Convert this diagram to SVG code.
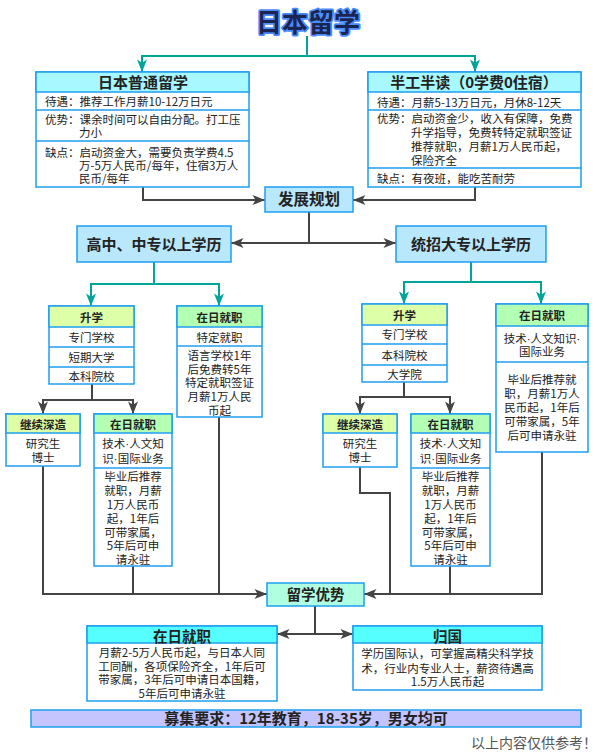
<svg xmlns="http://www.w3.org/2000/svg" width="608" height="753" viewBox="0 0 608 753">
<style>
text{font-family:"Noto Sans CJK SC","Noto Sans",sans-serif;fill:#222}
.d{font-family:"Liberation Sans",sans-serif}
.b{fill:#fff;stroke:#1e9ff0;stroke-width:1.5}
.hc{fill:#a8f8ff;stroke:#1e9ff0;stroke-width:1.5}
.hs{fill:#b9e7fc;stroke:#1e9ff0;stroke-width:1.5}
.hy{fill:#ddffa8;stroke:#1e9ff0;stroke-width:1.5}
.hg{fill:#b3ffb3;stroke:#1e9ff0;stroke-width:1.5}
.hm{fill:#b0ffe0;stroke:#1e9ff0;stroke-width:1.5}
.hq{fill:#55ffff;stroke:#1e9ff0;stroke-width:1.5}
.ln{fill:none;stroke:#1e9ff0;stroke-width:1.5}
.t{font-size:11.5px}
.c{font-size:11.5px;text-anchor:middle}
.h{font-size:11.5px;font-weight:bold;text-anchor:middle}
.H{font-size:15px;font-weight:bold;text-anchor:middle}
.dk{fill:none;stroke:#444;stroke-width:2}
.tl{fill:none;stroke:#00a59a;stroke-width:2}
</style>
<defs>
<marker id="ad" viewBox="0 0 10 8" refX="10" refY="4" markerWidth="13" markerHeight="10" markerUnits="userSpaceOnUse" orient="auto"><path d="M0,0 L10,4 L0,8 L2.5,4 z" fill="#444"/></marker>
<marker id="at" viewBox="0 0 10 8" refX="10" refY="4" markerWidth="13" markerHeight="10" markerUnits="userSpaceOnUse" orient="auto"><path d="M0,0 L10,4 L0,8 L2.5,4 z" fill="#00a59a"/></marker>
</defs>
<rect width="608" height="753" fill="#fff"/>

<g id="title">
<text x="308" y="32" text-anchor="middle" style="font-size:26px;font-weight:bold;fill:#1b2552;stroke:#4a8cff;stroke-width:3.5;paint-order:stroke;stroke-linejoin:round">日本留学</text>
</g>

<g id="connectors">
<path class="tl" d="M307,36 V56"/>
<path class="tl" d="M307,56 H142 V72" marker-end="url(#at)"/>
<path class="tl" d="M307,56 H475 V72" marker-end="url(#at)"/>
<path class="tl" d="M154,262 V284 H91 V306" marker-end="url(#at)"/>
<path class="tl" d="M154,284 H219 V306" marker-end="url(#at)"/>
<path class="tl" d="M471,262 V282 H404 V304" marker-end="url(#at)"/>
<path class="tl" d="M471,282 H541 V304" marker-end="url(#at)"/>
<path class="dk" d="M143,187 V200 H265" marker-end="url(#ad)"/>
<path class="dk" d="M475,187 V200 H353" marker-end="url(#ad)"/>
<path class="dk" d="M309,212 V243 H231" marker-end="url(#ad)"/>
<path class="dk" d="M309,243 H396" marker-end="url(#ad)"/>
<path class="dk" d="M92,384 V400 H43 V414" marker-end="url(#ad)"/>
<path class="dk" d="M92,400 H133 V414" marker-end="url(#ad)"/>
<path class="dk" d="M404,382 V397 H360 V414" marker-end="url(#ad)"/>
<path class="dk" d="M404,397 H450 V414" marker-end="url(#ad)"/>
<path class="dk" d="M43,466 V594 H267" marker-end="url(#ad)"/>
<path class="dk" d="M133,566 V594"/>
<path class="dk" d="M219,417 V594"/>
<path class="dk" d="M360,467 V493 H390 V594"/>
<path class="dk" d="M450,566 V594"/>
<path class="dk" d="M542,452 V594 H364" marker-end="url(#ad)"/>
<path class="dk" d="M315,606 V634 H277" marker-end="url(#ad)"/>
<path class="dk" d="M315,634 H353" marker-end="url(#ad)"/>
</g>

<g id="normal">
<rect class="b" x="36" y="72" width="213" height="115"/>
<rect class="hc" x="36" y="72" width="213" height="20"/>
<path class="ln" d="M36,110 H249 M36,141 H249"/>
<text class="H" x="143" y="88">日本普通留学</text>
<text class="t" x="45" y="106">待遇：推荐工作月薪10-12万日元</text>
<text class="t" x="45" y="124">优势：课余时间可以自由分配。打工压</text>
<text class="t" x="79" y="137">力小</text>
<text class="t" x="45" y="157">缺点：启动资金大，需要负责学费4.5</text>
<text class="t" x="79" y="170">万-5万人民币/每年，住宿3万人</text>
<text class="t" x="79" y="183">民币/每年</text>
</g>

<g id="workstudy">
<rect class="b" x="368" y="72" width="213" height="115"/>
<rect class="hc" x="368" y="72" width="213" height="20"/>
<path class="ln" d="M368,110 H581 M368,168 H581"/>
<text class="H" x="474" y="88">半工半读（0学费0住宿）</text>
<text class="t" x="377" y="107">待遇：月薪5-13万日元，月休8-12天</text>
<text class="t" x="377" y="123">优势：启动资金少，收入有保障，免费</text>
<text class="t" x="411" y="137">升学指导，免费转特定就职签证</text>
<text class="t" x="411" y="151">推荐就职，月薪1万人民币起，</text>
<text class="t" x="411" y="165">保险齐全</text>
<text class="t" x="377" y="183">缺点：有夜班，能吃苦耐劳</text>
</g>

<g id="plan">
<rect class="hs" x="265" y="187" width="88" height="25"/>
<text class="H" x="309" y="205" style="font-size:15.5px">发展规划</text>
</g>

<g id="highschool">
<rect class="hs" x="77" y="226" width="154" height="36"/>
<text class="H" x="154" y="249.5">高中、中专以上学历</text>
</g>

<g id="college">
<rect class="hs" x="396" y="226" width="150" height="36"/>
<text class="H" x="471" y="249.5">统招大专以上学历</text>
</g>

<g id="l-further">
<rect class="b" x="49" y="306" width="85" height="78"/>
<rect class="hy" x="49" y="306" width="85" height="21"/>
<path class="ln" d="M49,347 H134 M49,367 H134"/>
<text class="h" x="91.5" y="322">升学</text>
<text class="c" x="91.5" y="342">专门学校</text>
<text class="c" x="91.5" y="362">短期大学</text>
<text class="c" x="91.5" y="381">本科院校</text>
</g>

<g id="l-work">
<rect class="b" x="177" y="306" width="85" height="111"/>
<rect class="hg" x="177" y="306" width="85" height="21"/>
<path class="ln" d="M177,346 H262"/>
<text class="h" x="219.5" y="322">在日就职</text>
<text class="c" x="219.5" y="342">特定就职</text>
<text class="c" x="219.5" y="360">语言学校1年</text>
<text class="c" x="219.5" y="373.5">后免费转5年</text>
<text class="c" x="219.5" y="387">特定就职签证</text>
<text class="c" x="219.5" y="401">月薪1万人民</text>
<text class="c" x="219.5" y="414.5">币起</text>
</g>

<g id="r-further">
<rect class="b" x="362" y="304" width="85" height="78"/>
<rect class="hy" x="362" y="304" width="85" height="21"/>
<path class="ln" d="M362,344 H447 M362,365 H447"/>
<text class="h" x="404.5" y="320">升学</text>
<text class="c" x="404.5" y="339">专门学校</text>
<text class="c" x="404.5" y="360">本科院校</text>
<text class="c" x="404.5" y="379">大学院</text>
</g>

<g id="r-work">
<rect class="b" x="496" y="304" width="92" height="148"/>
<rect class="hg" x="496" y="304" width="92" height="22"/>
<path class="ln" d="M496,362 H588"/>
<text class="h" x="542" y="320">在日就职</text>
<text class="c" x="542" y="343">技术<tspan class="d">·</tspan>人文知识<tspan class="d">·</tspan></text>
<text class="c" x="542" y="356">国际业务</text>
<text class="c" x="542" y="384">毕业后推荐就</text>
<text class="c" x="542" y="397.5">职，月薪1万人</text>
<text class="c" x="542" y="411.5">民币起，1年后</text>
<text class="c" x="542" y="426">可带家属，5年</text>
<text class="c" x="542" y="440">后可申请永驻</text>
</g>

<g id="l-study">
<rect class="b" x="6" y="414" width="74" height="52"/>
<rect class="hy" x="6" y="414" width="74" height="19"/>
<text class="h" x="43" y="429">继续深造</text>
<text class="c" x="43" y="448">研究生</text>
<text class="c" x="43" y="462">博士</text>
</g>

<g id="l-job">
<rect class="b" x="94" y="414" width="78" height="152"/>
<rect class="hg" x="94" y="414" width="78" height="19"/>
<path class="ln" d="M94,468 H172"/>
<text class="h" x="133" y="429">在日就职</text>
<text class="c" x="133" y="448">技术<tspan class="d">·</tspan>人文知</text>
<text class="c" x="133" y="463">识<tspan class="d">·</tspan>国际业务</text>
<text class="c" x="133" y="481">毕业后推荐</text>
<text class="c" x="133" y="495">就职，月薪</text>
<text class="c" x="133" y="509">1万人民币</text>
<text class="c" x="133" y="522.5">起，1年后</text>
<text class="c" x="133" y="536.5">可带家属，</text>
<text class="c" x="133" y="550">5年后可申</text>
<text class="c" x="133" y="564">请永驻</text>
</g>

<g id="r-study">
<rect class="b" x="323" y="414" width="74" height="53"/>
<rect class="hy" x="323" y="414" width="74" height="19"/>
<text class="h" x="360" y="429">继续深造</text>
<text class="c" x="360" y="448">研究生</text>
<text class="c" x="360" y="462">博士</text>
</g>

<g id="r-job">
<rect class="b" x="411" y="414" width="79" height="152"/>
<rect class="hg" x="411" y="414" width="79" height="19"/>
<path class="ln" d="M411,468 H490"/>
<text class="h" x="450.5" y="429">在日就职</text>
<text class="c" x="450.5" y="448">技术<tspan class="d">·</tspan>人文知</text>
<text class="c" x="450.5" y="463">识<tspan class="d">·</tspan>国际业务</text>
<text class="c" x="450.5" y="481">毕业后推荐</text>
<text class="c" x="450.5" y="495">就职，月薪</text>
<text class="c" x="450.5" y="509">1万人民币</text>
<text class="c" x="450.5" y="522.5">起，1年后</text>
<text class="c" x="450.5" y="536.5">可带家属，</text>
<text class="c" x="450.5" y="550">5年后可申</text>
<text class="c" x="450.5" y="564">请永驻</text>
</g>

<g id="advantage">
<rect class="hm" x="267" y="583" width="97" height="23"/>
<text class="H" x="315.5" y="600" style="font-size:14.5px">留学优势</text>
</g>

<g id="stay">
<rect class="b" x="87" y="626" width="190" height="75"/>
<rect class="hq" x="87" y="626" width="190" height="17"/>
<text class="H" x="182" y="641.5" style="font-size:14.5px">在日就职</text>
<text class="c" x="182" y="657">月薪2-5万人民币起，与日本人同</text>
<text class="c" x="182" y="671">工同酬，各项保险齐全，1年后可</text>
<text class="c" x="182" y="684">带家属，3年后可申请日本国籍，</text>
<text class="c" x="182" y="698">5年后可申请永驻</text>
</g>

<g id="return">
<rect class="b" x="353" y="626" width="189" height="64"/>
<rect class="hq" x="353" y="626" width="189" height="17"/>
<text class="H" x="447.5" y="641.5" style="font-size:14.5px">归国</text>
<text class="c" x="447.5" y="658">学历国际认，可掌握高精尖科学技</text>
<text class="c" x="447.5" y="673">术，行业内专业人士，薪资待遇高</text>
<text class="c" x="447.5" y="686">1.5万人民币起</text>
</g>

<g id="requirement">
<rect x="31" y="710" width="550" height="17" fill="#c4c4ff" stroke="#1e9ff0" stroke-width="1.5"/>
<text x="306" y="724" text-anchor="middle" style="font-size:15px;font-weight:bold">募集要求：12年教育，18-35岁，男女均可</text>
</g>

<text x="597" y="748" text-anchor="end" style="font-size:14px;fill:#555">以上内容仅供参考！</text>
</svg>
